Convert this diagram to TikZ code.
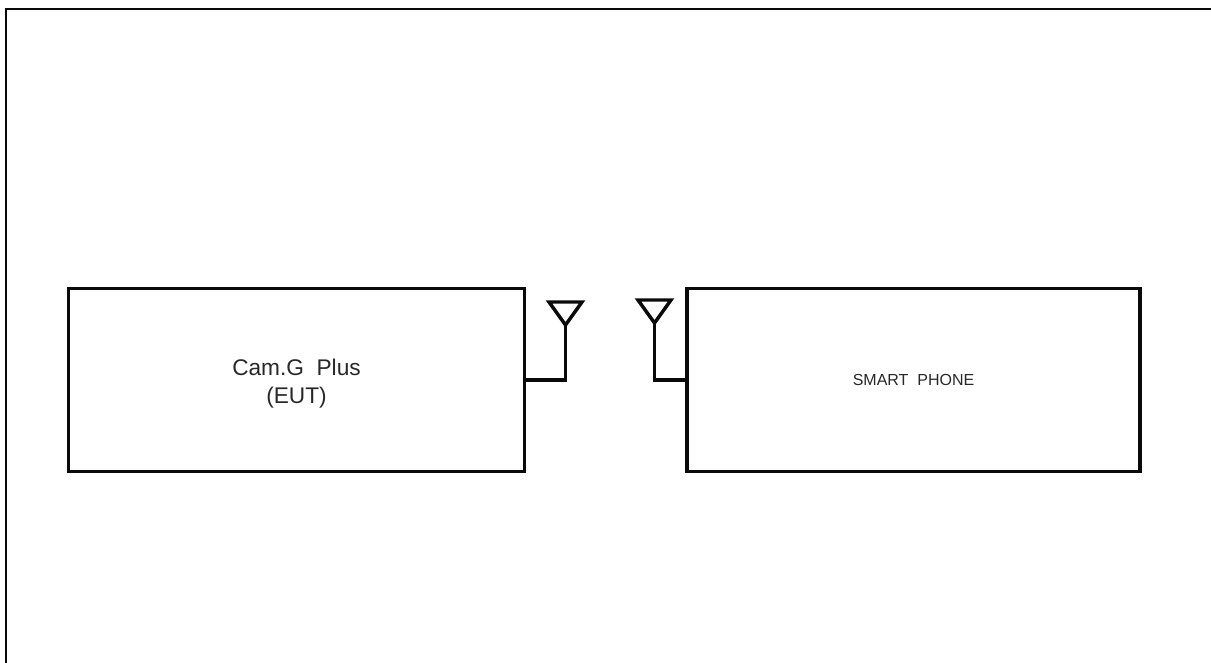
\documentclass[tikz,border=0pt]{standalone}
\usepackage{fontspec}
\setmainfont{Liberation Sans}
\usetikzlibrary{positioning}
\definecolor{linblack}{RGB}{10,10,10}
\definecolor{txtgray}{RGB}{40,40,40}
\tikzset{
  devbox/.style={draw=linblack, line width=2.6pt, minimum height=137pt, inner sep=0pt, align=center, text=txtgray},
  wire/.style={draw=linblack, line width=2.6pt},
  antwire/.style={draw=linblack, line width=2.6pt, line join=miter},
}
\begin{document}
\begin{tikzpicture}[x=0.75pt, y=-0.75pt]
 \useasboundingbox (0,0) rectangle (1211,663);
 % outer frame, open on the right and at the bottom
 \draw[draw=linblack, line width=1.9pt] (6,663) -- (6,9) -- (1211,9);
 \node[devbox, minimum width=342pt, font=\fontsize{17}{21.5}\selectfont] (eut) at (296.5,380) {\rule{0pt}{18pt}Cam.G\ \ Plus\\(EUT)};
 \node[devbox, minimum width=340pt, font=\fontsize{12}{14}\selectfont] (phone) at (913.5,380) {SMART\ \ PHONE};
 % antennas
 \foreach \nm/\ax/\ay in {anta/565.5/325, antb/654.5/323}
 {
  \coordinate (\nm) at (\ax,\ay);
  \draw[antwire] (\nm) -- +(-16.5,-23) -- +(16.5,-23) -- cycle;
 }
 \draw[wire] (eut.east) -| (anta);
 \draw[wire] (phone.west) -| (antb);
\end{tikzpicture}
\end{document}
